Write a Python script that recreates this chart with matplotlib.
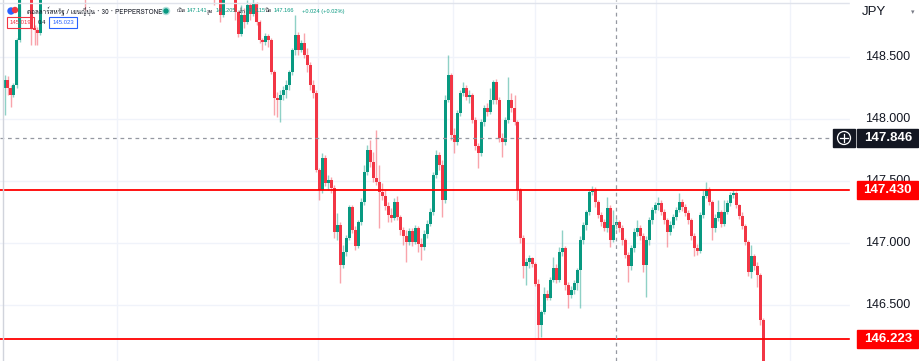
import matplotlib
matplotlib.use('Agg')
import matplotlib.pyplot as plt
from matplotlib import font_manager
from matplotlib.ft2font import FT2Font
from matplotlib.patches import Rectangle, Ellipse
from matplotlib.lines import Line2D

# ราคาแท่งเทียน 30 นาที (open = close ของแท่งก่อนหน้า)
first_open = 148.253
close = [
    148.318, 148.253, 148.196, 148.277, 148.641, 149.046, 149.17, 149.25, 149.13, 148.738,
    148.722, 148.698, 149.086, 149.12, 149.18, 149.15, 149.22, 149.26, 149.20, 149.24,
    149.30, 149.27, 149.22, 149.18, 149.14, 149.11, 149.10, 149.00, 149.08, 149.12,
    149.16, 149.21, 149.25, 149.31, 149.28, 149.34, 149.38, 149.33, 149.29, 149.35,
    149.40, 149.36, 149.31, 149.27, 149.30, 149.26, 149.22, 149.25, 149.19, 149.15,
    149.18, 149.22, 149.17, 149.13, 149.16, 149.20, 149.24, 149.19, 149.14, 149.10,
    149.13, 149.09, 149.12, 149.16, 149.11, 149.07, 149.10, 149.14, 149.09, 149.06,
    149.00, 149.04, 148.844, 149.02, 149.06, 149.03, 149.00, 148.868, 148.690, 148.844,
    148.787, 148.925, 148.852, 148.933, 148.787, 148.641, 148.625, 148.674, 148.641, 148.382,
    148.172, 148.156, 148.196, 148.237, 148.277, 148.382, 148.560, 148.682, 148.560, 148.617,
    148.520, 148.439, 148.277, 148.213, 147.589, 147.428, 147.687, 147.484, 147.509, 147.444,
    147.088, 147.144, 146.821, 146.926, 147.039, 147.290, 147.104, 146.975, 147.169, 147.331,
    147.573, 147.751, 147.654, 147.525, 147.492, 147.412, 147.379, 147.298, 147.225, 147.201,
    147.331, 147.209, 147.104, 147.055, 147.007, 147.096, 147.007, 147.120, 146.991, 146.967,
    147.072, 147.153, 147.250, 147.549, 147.711, 147.630, 147.347, 148.156, 148.358, 147.873,
    147.816, 148.051, 148.213, 148.253, 148.180, 148.196, 147.994, 147.784, 147.727, 147.978,
    148.091, 148.059, 148.156, 148.301, 148.156, 147.848, 147.816, 147.994, 148.156, 148.091,
    147.978, 147.428, 147.039, 146.813, 146.845, 146.878, 146.829, 146.667, 146.335, 146.441,
    146.586, 146.554, 146.700, 146.797, 146.700, 146.926, 146.958, 146.659, 146.578, 146.619,
    146.675, 146.780, 147.023, 147.144, 147.250, 147.412, 147.436, 147.331, 147.225, 147.169,
    147.120, 147.282, 147.023, 147.141, 147.166, 147.120, 147.023, 146.902, 146.813, 146.958,
    147.088, 147.120, 147.055, 146.821, 147.023, 147.185, 147.266, 147.306, 147.323, 147.250,
    147.185, 147.088, 147.144, 147.209, 147.266, 147.331, 147.290, 147.242, 147.185, 147.055,
    146.958, 146.934, 147.225, 147.379, 147.436, 147.331, 147.120, 147.201, 147.250, 147.153,
    147.250, 147.323, 147.387, 147.404, 147.306, 147.217, 147.136, 147.007, 146.764, 146.894,
    146.813, 146.740, 146.376, 145.890,
]
high = [
    148.358, 148.350, 148.277, 148.293, 148.658, 149.127, 149.22, 149.30, 149.28, 149.14,
    148.763, 148.746, 149.13, 149.16, 149.22, 149.21, 149.25, 149.30, 149.28, 149.27,
    149.33, 149.32, 149.29, 149.24, 149.20, 149.16, 149.14, 149.12, 149.11, 149.15,
    149.19, 149.24, 149.28, 149.34, 149.33, 149.37, 149.41, 149.40, 149.35, 149.38,
    149.43, 149.42, 149.38, 149.33, 149.33, 149.31, 149.28, 149.28, 149.27, 149.21,
    149.21, 149.25, 149.24, 149.19, 149.19, 149.23, 149.27, 149.26, 149.21, 149.16,
    149.16, 149.15, 149.15, 149.19, 149.18, 149.13, 149.13, 149.17, 149.16, 149.12,
    149.08, 149.07, 149.06, 149.05, 149.09, 149.08, 149.05, 149.02, 148.884, 148.925,
    148.900, 148.965, 148.941, 148.98, 148.949, 148.803, 148.658, 148.698, 148.690, 148.658,
    148.399, 148.221, 148.237, 148.269, 148.318, 148.399, 148.577, 148.844, 148.706, 148.641,
    148.698, 148.577, 148.463, 148.318, 148.237, 147.606, 147.727, 147.711, 147.549, 147.533,
    147.468, 147.242, 147.169, 146.983, 147.064, 147.306, 147.306, 147.136, 147.185, 147.363,
    147.630, 147.792, 147.832, 147.735, 147.913, 147.630, 147.484, 147.428, 147.331, 147.282,
    147.363, 147.379, 147.225, 147.128, 147.104, 147.120, 147.120, 147.144, 147.136, 147.039,
    147.104, 147.185, 147.282, 147.573, 147.751, 147.735, 147.670, 148.196, 148.520, 148.374,
    147.929, 148.075, 148.237, 148.301, 148.277, 148.237, 148.213, 148.018, 147.808, 148.002,
    148.115, 148.132, 148.253, 148.318, 148.326, 148.180, 147.889, 148.018, 148.342, 148.213,
    148.196, 147.994, 147.444, 147.064, 146.878, 146.902, 146.886, 146.845, 146.708, 146.457,
    146.643, 146.619, 146.724, 146.886, 146.829, 146.967, 147.104, 146.975, 146.683, 146.651,
    146.700, 146.797, 147.055, 147.169, 147.266, 147.428, 147.460, 147.452, 147.347, 147.250,
    147.193, 147.371, 147.306, 147.266, 147.205, 147.185, 147.144, 147.039, 146.926, 146.983,
    147.120, 147.185, 147.144, 147.080, 147.055, 147.209, 147.290, 147.331, 147.371, 147.347,
    147.274, 147.201, 147.177, 147.233, 147.290, 147.404, 147.355, 147.314, 147.266, 147.201,
    147.080, 146.991, 147.250, 147.428, 147.492, 147.452, 147.347, 147.233, 147.347, 147.266,
    147.347, 147.347, 147.412, 147.428, 147.420, 147.314, 147.250, 147.153, 147.023, 146.983,
    146.910, 146.845, 146.756, 146.392,
]
low = [
    148.035, 148.196, 148.099, 148.180, 148.253, 148.625, 149.02, 149.14, 149.08, 148.601,
    148.601, 148.601, 148.682, 149.06, 149.10, 149.11, 149.13, 149.20, 149.17, 149.18,
    149.21, 149.24, 149.19, 149.15, 149.11, 149.08, 149.06, 148.884, 148.99, 149.05,
    149.09, 149.13, 149.18, 149.22, 149.25, 149.26, 149.31, 149.30, 149.26, 149.27,
    149.32, 149.33, 149.28, 149.24, 149.25, 149.23, 149.19, 149.20, 149.16, 149.11,
    149.12, 149.16, 149.14, 149.10, 149.11, 149.14, 149.18, 149.16, 149.11, 149.06,
    149.07, 149.06, 149.07, 149.10, 149.08, 149.03, 149.04, 149.08, 149.06, 149.03,
    148.925, 148.99, 148.787, 148.828, 149.00, 149.00, 148.98, 148.803, 148.666, 148.674,
    148.738, 148.771, 148.803, 148.836, 148.763, 148.617, 148.560, 148.601, 148.585, 148.366,
    148.035, 148.018, 147.978, 148.156, 148.172, 148.237, 148.358, 148.520, 148.520, 148.544,
    148.496, 148.382, 148.237, 148.172, 147.573, 147.347, 147.404, 147.460, 147.428, 147.404,
    147.039, 147.023, 146.675, 146.797, 146.894, 147.023, 147.080, 146.942, 146.958, 147.144,
    147.306, 147.549, 147.614, 147.492, 147.468, 147.120, 147.347, 147.266, 147.169, 147.169,
    147.185, 147.185, 147.064, 146.983, 146.845, 146.983, 146.975, 146.991, 146.926, 146.861,
    146.942, 147.039, 147.136, 147.225, 147.525, 147.589, 147.209, 147.323, 148.140, 147.832,
    147.727, 147.792, 148.026, 148.188, 148.156, 148.132, 147.970, 147.751, 147.606, 147.703,
    147.945, 148.026, 148.043, 148.123, 148.123, 147.816, 147.695, 147.792, 147.970, 148.059,
    147.954, 147.347, 146.999, 146.716, 146.659, 146.797, 146.805, 146.651, 146.230, 146.238,
    146.424, 146.538, 146.538, 146.683, 146.675, 146.683, 146.894, 146.619, 146.473, 146.554,
    146.586, 146.619, 146.473, 146.991, 147.104, 147.225, 147.387, 147.290, 147.201, 147.136,
    147.096, 147.088, 146.967, 147.007, 147.115, 147.088, 146.983, 146.878, 146.683, 146.780,
    146.926, 147.055, 147.023, 146.764, 146.562, 146.983, 147.153, 147.242, 147.266, 147.225,
    147.153, 146.967, 147.064, 147.120, 147.185, 147.250, 147.258, 147.217, 147.153, 147.023,
    146.894, 146.902, 146.918, 147.201, 147.363, 147.306, 147.023, 147.088, 147.177, 147.128,
    147.136, 147.233, 147.298, 147.363, 147.282, 147.193, 147.112, 146.983, 146.732, 146.716,
    146.780, 146.643, 146.335, 145.850,
]

price_ticks = [148.5, 148.0, 147.5, 147.0, 146.5]
tick_labels = ['148.500', '148.000', '147.500', '147.000', '146.500']
levels = [147.430, 146.223]
crosshair_price = 147.846
crosshair_bar = 204
time_grid = [37.5, 104.5, 149.5, 176.8, 217.2, 261.8]

header_title = 'ดอลลาร์สหรัฐ / เยนญี่ปุ่น · 30 · PEPPERSTONE'
ohlc_names = ['เปิด', 'สูง', 'ต่ำ', 'ปิด']
ohlc_values = ['147.141', '147.205', '147.115', '147.166']
change_text = '+0.024 (+0.02%)'
sell_price, spread, buy_price = '145.019', '0.4', '145.023'

# หาฟอนต์ที่มีอักษรไทย
thai_font = None
for f in font_manager.fontManager.ttflist:
    try:
        if 0x0E14 in FT2Font(f.fname).get_charmap():
            thai_font = f.name
            break
    except Exception:
        pass
fam = [thai_font, 'DejaVu Sans'] if thai_font else ['DejaVu Sans']
plt.rcParams['font.family'] = fam

UP, DOWN = '#089981', '#f23645'
W, H = 920, 361
ymin, ymax = 146.0445, 148.965

fig = plt.figure(figsize=(W / 100, H / 100), dpi=100)
fig.patch.set_facecolor('white')

ax = fig.add_axes([0, 0, 850 / W, 1])
ax.set_xlim(-1.5, (850 - 4.5) / 3)
ax.set_ylim(ymin, ymax)
ax.axis('off')

# grid
for p in price_ticks:
    ax.axhline(p, color='#f0f3fa', lw=1, zorder=0)
for g in time_grid:
    ax.axvline(g, color='#f0f3fa', lw=1, zorder=0)

# candles
opens = [first_open] + close[:-1]
for i in range(len(close)):
    o, c = opens[i], close[i]
    col = UP if c >= o else DOWN
    lo = min(low[i], o, c)
    hi = max(high[i], o, c)
    ax.vlines(i, lo, hi, color=col, alpha=0.45, lw=1, zorder=2)
    ax.bar(i, max(abs(c - o), 0.006), bottom=min(o, c), width=0.7,
           color=col, lw=0, zorder=3)

# เส้นแนวรับ/แนวต้าน
for lv in levels:
    ax.axhline(lv, color='#ff0000', lw=1.3, zorder=4)

# crosshair
ax.axhline(crosshair_price, color='#9598a1', lw=0.9, ls=(0, (3, 3)), zorder=5)
ax.axvline(crosshair_bar, color='#9598a1', lw=0.9, ls=(0, (3, 3)), zorder=5)

# border
ax.plot([-1.5 + 2.5 / 3] * 2, [ymin, ymax], color='#d1d4dc', lw=1, zorder=6, clip_on=False)
ax.axhline(ymax - 2.5 / 123.6, color='#e0e3eb', lw=1, zorder=6)

# price scale
ax2 = fig.add_axes([830 / W, 0, 90 / W, 1])
ax2.set_xlim(830, 920)
ax2.set_ylim(ymin, ymax)
ax2.axis('off')
ax2.patch.set_alpha(0)
ax2.add_patch(Rectangle((850, ymin), 70, ymax - ymin, color='white', zorder=1))
pxu = 1 / 123.6
for p, t in zip(price_ticks, tick_labels):
    ax2.text(910, p, t, ha='right', va='center', fontsize=9, color='#131722',
             family='Liberation Sans', zorder=2)
for lv in levels:
    ax2.add_patch(Rectangle((857, lv - 9 * pxu), 61, 18 * pxu, color='#ff0000', zorder=3))
    ax2.text(912, lv, f'{lv:.3f}', ha='right', va='center', fontsize=9.5, color='white',
             weight='bold', family='Liberation Sans', zorder=4)
ax2.add_patch(Rectangle((857, crosshair_price - 9 * pxu), 61, 18 * pxu, color='#131722', zorder=3))
ax2.text(912, crosshair_price, f'{crosshair_price:.3f}', ha='right', va='center', fontsize=9.5,
         color='white', weight='bold', family='Liberation Sans', zorder=4)
ax2.add_patch(Rectangle((833, crosshair_price - 9 * pxu), 22, 18 * pxu, color='#131722', zorder=3))
ax2.text(862, ymax - 12 * pxu, 'JPY', ha='left', va='center', fontsize=9.5, color='#131722',
         family='Liberation Sans', zorder=4)
ax2.text(913, ymax - 12 * pxu, '▾', ha='center', va='center', fontsize=5, color='#787b86',
         family='DejaVu Sans', zorder=4)

# ปุ่มวงกลม +
cx, cy = 844 / W, 1 - 138 / H
fig.patches.append(Ellipse((cx, cy), 13 / W, 13 / H, fill=False, ec='white', lw=0.9,
                           transform=fig.transFigure, zorder=10))
fig.lines.append(Line2D([cx - 4 / W, cx + 4 / W], [cy, cy], color='white', lw=0.9,
                        transform=fig.transFigure, zorder=10))
fig.lines.append(Line2D([cx, cx], [cy - 4 / H, cy + 4 / H], color='white', lw=0.9,
                        transform=fig.transFigure, zorder=10))


def ft(x, y, s, **kw):
    fig.text(x / W, 1 - y / H, s, va='center', **kw)


# header
fig.patches.append(Ellipse((11 / W, 1 - 11 / H), 6 / W, 6 / H, color='#2962ff', transform=fig.transFigure))
fig.patches.append(Ellipse((15 / W, 1 - 10 / H), 5 / W, 5 / H, color='#f23645', transform=fig.transFigure))
ft(27, 11, header_title, fontsize=4.6, color='#131722')
fig.patches.append(Ellipse((166 / W, 1 - 11 / H), 7 / W, 7 / H, color='#b2dfdb', transform=fig.transFigure))
fig.patches.append(Ellipse((166 / W, 1 - 11 / H), 4 / W, 4 / H, color=UP, transform=fig.transFigure))
name_x = [177, 207, 239, 265]
value_x = [187, 216, 246, 274]
for xn, xv, n, v in zip(name_x, value_x, ohlc_names, ohlc_values):
    ft(xn, 11, n, fontsize=4.1, color='#131722')
    ft(xv, 11, v, fontsize=4.1, color=UP, family='Liberation Sans')
ft(302, 11, change_text, fontsize=4.1, color=UP, family='Liberation Sans')

fig.patches.append(Rectangle((7 / W, 1 - 28 / H), 27 / W, 11 / H, fill=False, ec='#f23645', lw=0.8,
                             transform=fig.transFigure))
ft(20.5, 22.5, sell_price, fontsize=4.3, color='#f23645', ha='center', family='Liberation Sans')
ft(41.5, 22.5, spread, fontsize=4.3, color='#131722', ha='center', family='Liberation Sans')
fig.patches.append(Rectangle((49 / W, 1 - 28 / H), 28 / W, 11 / H, fill=False, ec='#2962ff', lw=0.8,
                             transform=fig.transFigure))
ft(63, 22.5, buy_price, fontsize=4.3, color='#2962ff', ha='center', family='Liberation Sans')

fig.savefig('out.png', dpi=100, facecolor='white')
